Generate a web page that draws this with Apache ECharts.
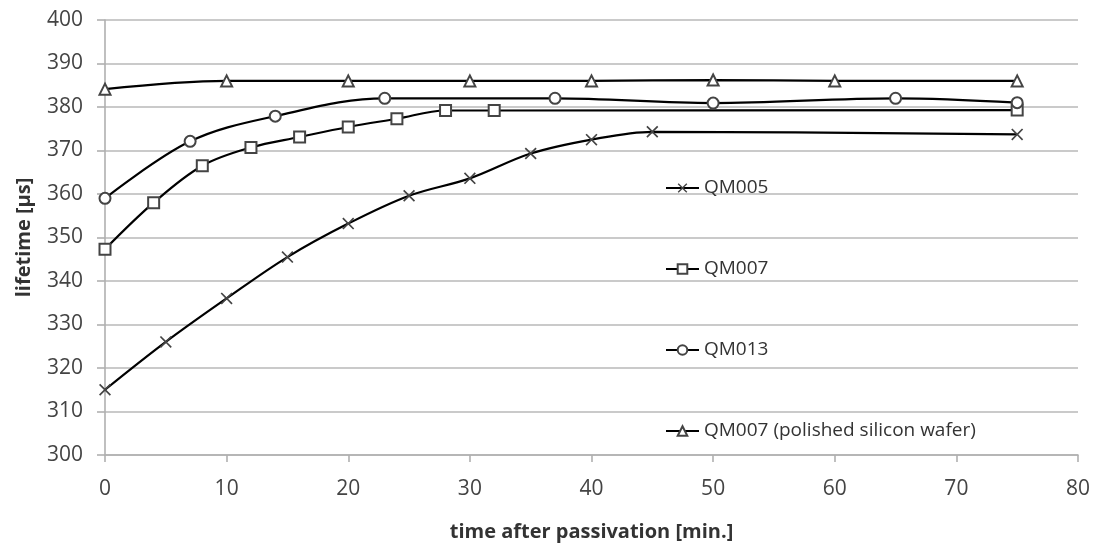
<!DOCTYPE html>
<html>
<head>
<meta charset="utf-8">
<script src="https://cdn.jsdelivr.net/npm/echarts@6/dist/echarts.min.js"></script>
<style>
  html, body { margin: 0; padding: 0; background: #fff; }
  #chart { width: 1095px; height: 547px; }
</style>
</head>
<body>
<div id="chart"></div>
<script>
// data (time in min, lifetime in µs)
const qm005 = [[0, 315], [5, 326], [10, 336], [15, 345.5], [20, 353.2], [25, 359.6], [30, 363.6], [35, 369.3], [40, 372.5], [45, 374.3], [75, 373.7]]
const qm007 = [[0, 347.3], [4, 358], [8, 366.5], [12, 370.7], [16, 373.1], [20, 375.4], [24, 377.3], [28, 379.2], [32, 379.2], [75, 379.3]]
const qm013 = [[0, 359], [7, 372.1], [14, 377.9], [23, 382], [37, 382], [50, 380.9], [65, 382], [75, 381]]
const qm007Polished = [[0, 384.1], [10, 386], [20, 386], [30, 386], [40, 386], [50, 386.2], [60, 386], [75, 386]]
const seriesNames = ['QM005', 'QM007', 'QM013', 'QM007 (polished silicon wafer)']

// filled "x" shape for the QM005 markers
const crossSymbol = 'path://M0,1L1,0L5,4L9,0L10,1L6,5L10,9L9,10L5,6L1,10L0,9L4,5Z'
const font = '"Open Sans", "DejaVu Sans", sans-serif'

const chart = echarts.init(document.getElementById('chart'))

// common style for every series
const makeSeries = (name, data, symbol, size) => ({
  name: name,
  type: 'line',
  data: data,
  smooth: 0.35,
  symbol: symbol,
  symbolSize: size,
  lineStyle: { color: '#000', width: 2.2 },
  itemStyle: {
    color: '#444',
    borderWidth: symbol === crossSymbol ? 0 : 1.4
  },
  z: 3
})

const option = {
  animation: false,
  backgroundColor: '#fff',
  grid: {
    left: 105,
    right: 17,
    top: 20,
    bottom: 91
  },
  legend: {
    orient: 'vertical',
    left: 660,
    top: 173,
    itemGap: 61,
    itemWidth: 33,
    itemHeight: 12,
    data: seriesNames,
    textStyle: { fontFamily: font, fontSize: 19, lineHeight: 20, color: '#333' }
  },
  xAxis: {
    type: 'value',
    min: 0,
    max: 80,
    interval: 10,
    name: 'time after passivation [min.]',
    nameLocation: 'middle',
    nameGap: 67,
    nameTextStyle: { fontFamily: font, fontSize: 20, fontWeight: 'bold', color: '#333' },
    axisLine: { show: true, lineStyle: { color: '#b0b0b0', width: 1.6 } },
    axisTick: { show: true, length: 7, lineStyle: { color: '#b0b0b0', width: 1.6 } },
    axisLabel: { fontFamily: font, fontSize: 21, color: '#444', margin: 24 },
    splitLine: { show: false }
  },
  yAxis: {
    type: 'value',
    min: 300,
    max: 400,
    interval: 10,
    name: 'lifetime [µs]',
    nameLocation: 'middle',
    nameGap: 71,
    nameTextStyle: { fontFamily: font, fontSize: 20, fontWeight: 'bold', color: '#333' },
    axisLine: { show: true, lineStyle: { color: '#b0b0b0', width: 1.6 } },
    axisTick: { show: true, length: 8, lineStyle: { color: '#b0b0b0', width: 1.6 } },
    axisLabel: { fontFamily: font, fontSize: 21, color: '#444', margin: 22 },
    splitLine: { show: true, lineStyle: { color: '#b8b8b8', width: 1.6 } }
  },
  series: [
    makeSeries(seriesNames[0], qm005, crossSymbol, 12),
    makeSeries(seriesNames[1], qm007, 'emptyRect', 11),
    makeSeries(seriesNames[2], qm013, 'emptyCircle', 11),
    makeSeries(seriesNames[3], qm007Polished, 'emptyTriangle', 11)
  ]
}

chart.setOption(option)
</script>
</body>
</html>
